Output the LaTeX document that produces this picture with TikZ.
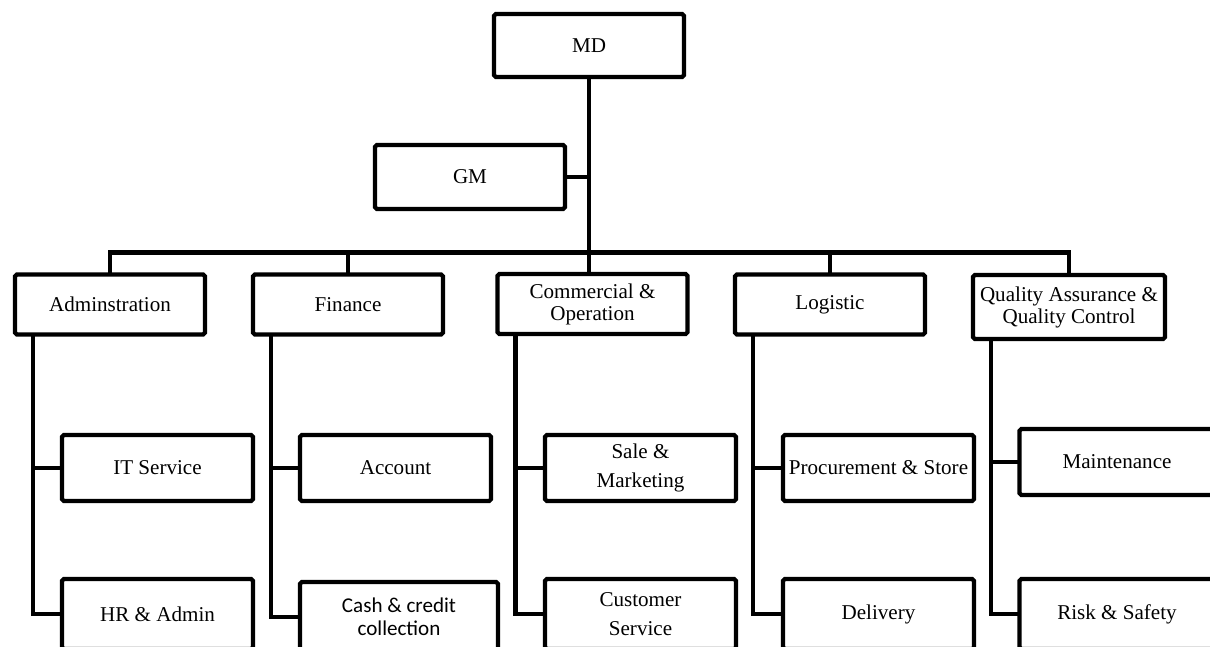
\documentclass[tikz,border=0pt]{standalone}
\usepackage{fontspec}
\setmainfont{Liberation Serif}
\newfontfamily\calibri{Carlito}
\tikzset{
  unit/.style = { draw, line width=2.4pt, rounded corners=1pt, outer sep=0pt, inner sep=0pt, align=center, font=\fontsize{12}{12.5}\selectfont },
  head/.style = { unit, minimum width=3.8cm, minimum height=1.2cm },
  sub/.style  = { unit, minimum width=3.82cm, minimum height=1.32cm },
  low/.style  = { sub, minimum height=1.4cm },
  link/.style = { line width=2.6pt }
}

\begin{document}
\begin{tikzpicture}[x=0.02cm, y=-0.02cm]
  \useasboundingbox (0,0) rectangle (1210,646);
  \clip (0,0) rectangle (1210,646);
  % Draw management
  \node[unit, minimum width=3.8cm, minimum height=1.26cm] (md) at (589,45.5) {MD};
  \node[unit, minimum width=3.8cm, minimum height=1.28cm] (gm) at (470,177) {GM};
  % Draw departments
  \node[head] (admin)    at (110,304.5) {Adminstration};
  \node[head] (finance)  at (348,304.5) {Finance};
  \node[head] (comm)     at (592.5,304) {Commercial \&\\Operation};
  \node[head] (logistic) at (830,304.5) {Logistic};
  \node[head, minimum width=3.84cm, minimum height=1.28cm] (qa) at (1069,307) {Quality Assurance \&\\Quality Control};
  % Draw sections
  \node[sub] (it)       at (157.5,468) {IT Service};
  \node[low] (hr)       at (157.5,614) {HR \& Admin};
  \node[sub] (account)  at (395.5,468) {Account};
  \node[low, minimum width=3.96cm, font=\calibri\fontsize{12}{13}\selectfont] (cash) at (399,617) {Cash \& credit\\collection};
  \node[sub] (sale)     at (640.5,468) {Sale \&\\[4.5pt]Marketing};
  \node[low] (customer) at (640.5,614) {Customer\\[4pt]Service};
  \node[sub] (procure)  at (878.5,468) {Procurement \& Store};
  \node[low] (delivery) at (878.5,614) {Delivery};
  \node[sub, minimum width=3.9cm] (maint) at (1117,462) {Maintenance};
  \node[low, minimum width=3.9cm] (risk)  at (1117,614) {Risk \& Safety};
  % Draw connectors
  \draw[link] (md.south) -- (md.south |- comm.north);
  \draw[link] (gm.east) -- (gm.east -| md.south);
  \draw[link] (admin.north) -- ++(0,-22) coordinate (bus) -| (qa.north);
  \draw[link] (finance.north) -- (finance.north |- bus);
  \draw[link] (logistic.north) -- (logistic.north |- bus);
  \draw[link] (admin.south west) ++(18,0) coordinate (t1) |- (it.west) (t1) |- (hr.west);
  \draw[link] (finance.south west) ++(18,0) coordinate (t2) |- (account.west) (t2) |- (cash.west);
  \draw[link] (comm.south west) ++(18,0) coordinate (t3) |- (sale.west) (t3) |- (customer.west);
  \draw[link] (logistic.south west) ++(18,0) coordinate (t4) |- (procure.west) (t4) |- (delivery.west);
  \draw[link] (qa.south west) ++(18,0) coordinate (t5) |- (maint.west) (t5) |- (risk.west);
\end{tikzpicture}
\end{document}
